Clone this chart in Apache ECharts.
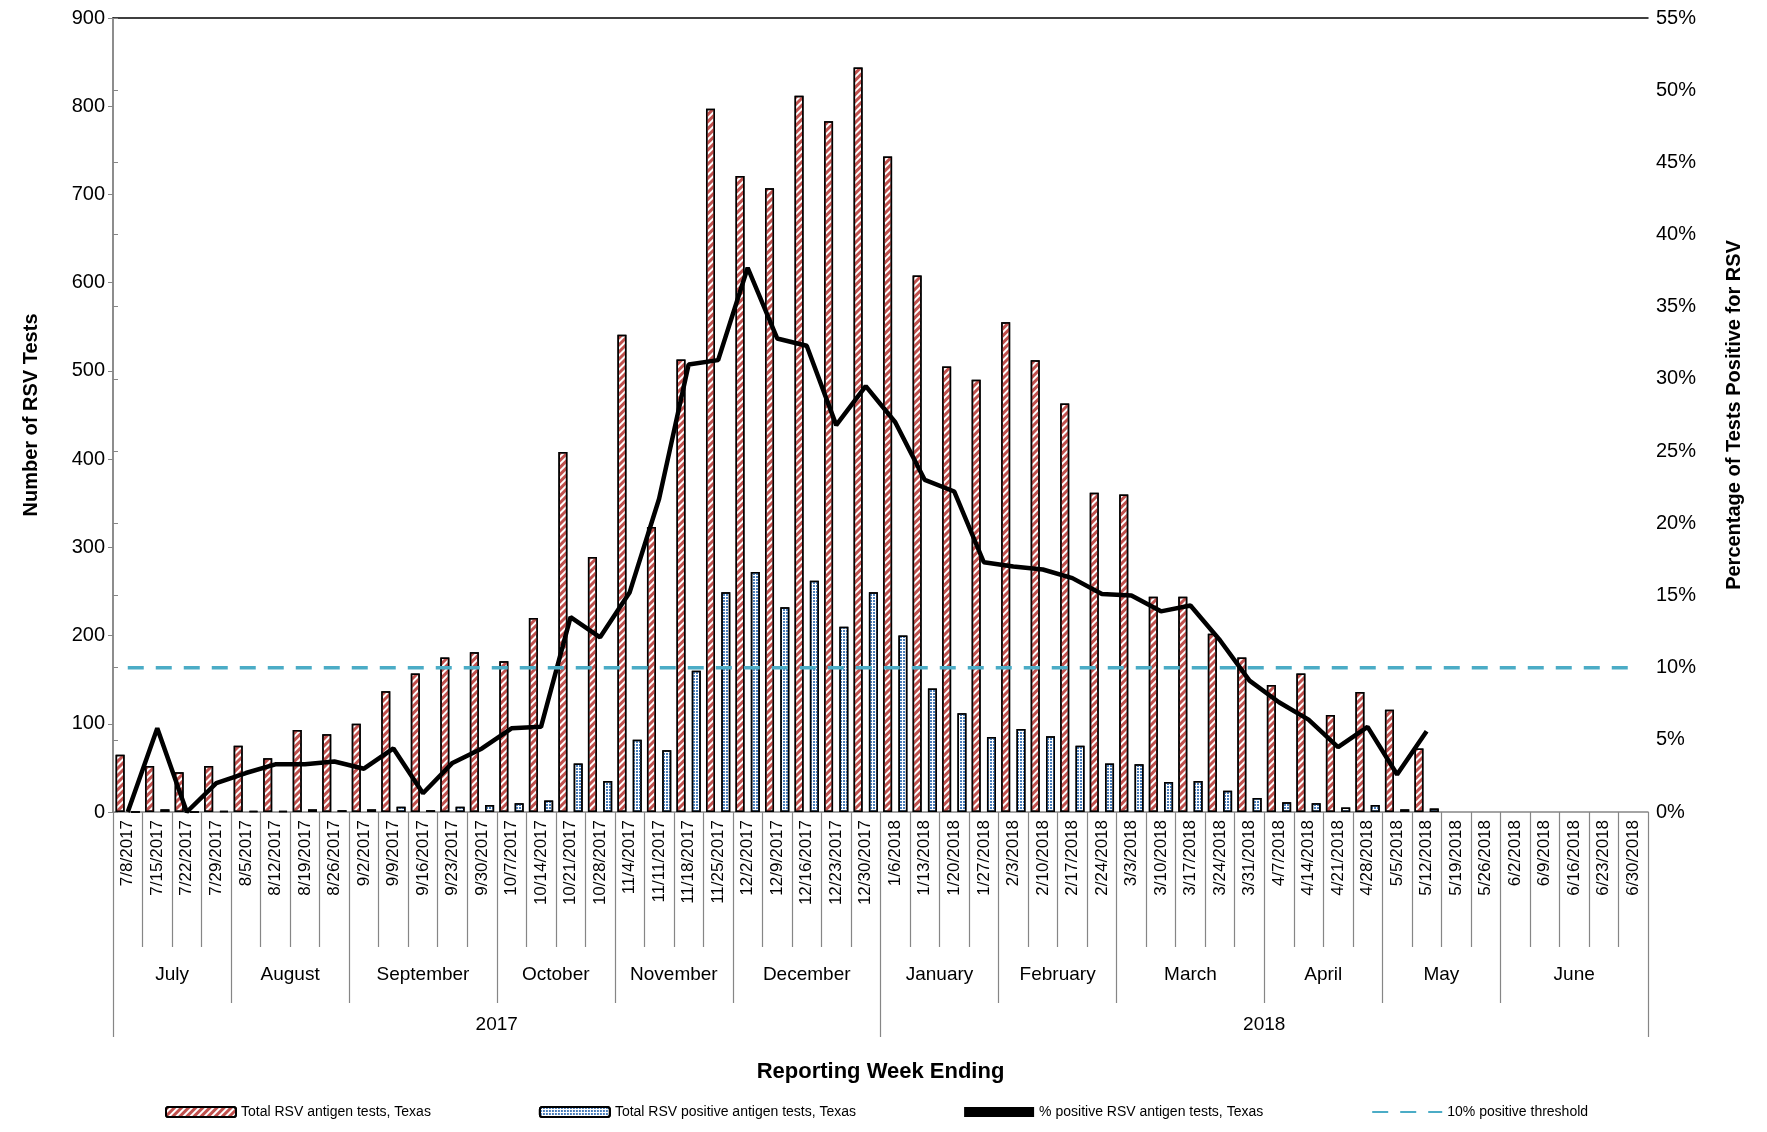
<!DOCTYPE html>
<html>
<head>
<meta charset="utf-8" />
<title>RSV Texas</title>
<style>html,body{margin:0;padding:0;background:#fff;}</style>
</head>
<body>
<div id="main" style="width:1767px;height:1132px;"></div>
<script src="https://cdn.jsdelivr.net/npm/echarts@6/dist/echarts.min.js"></script>
<script>
var weeks = ['7/8/2017','7/15/2017','7/22/2017','7/29/2017','8/5/2017','8/12/2017','8/19/2017','8/26/2017',
  '9/2/2017','9/9/2017','9/16/2017','9/23/2017','9/30/2017','10/7/2017','10/14/2017','10/21/2017','10/28/2017',
  '11/4/2017','11/11/2017','11/18/2017','11/25/2017','12/2/2017','12/9/2017','12/16/2017','12/23/2017','12/30/2017',
  '1/6/2018','1/13/2018','1/20/2018','1/27/2018','2/3/2018','2/10/2018','2/17/2018','2/24/2018',
  '3/3/2018','3/10/2018','3/17/2018','3/24/2018','3/31/2018','4/7/2018','4/14/2018','4/21/2018','4/28/2018',
  '5/5/2018','5/12/2018','5/19/2018','5/26/2018','6/2/2018','6/9/2018','6/16/2018','6/23/2018','6/30/2018'];
var totalTests = [65,52,45,52,75,61,93,88,100,137,157,175,181,171,220,408,289,541,323,513,797,721,707,812,783,844,
  743,608,505,490,555,512,463,362,360,244,244,202,175,144,157,110,136,116,72,null,null,null,null,null,null,null];
var positiveTests = [0,3,0,1,1,1,3,2,3,6,2,6,8,10,13,55,35,82,70,160,249,272,232,262,210,249,
  200,140,112,85,94,86,75,55,54,34,35,24,16,11,10,5,8,3,4,null,null,null,null,null,null,null];
var pctPositive = [0,5.8,0,2.0,2.7,3.3,3.3,3.5,3.0,4.4,1.3,3.4,4.4,5.8,5.9,13.5,12.1,15.2,21.7,31.0,31.3,37.7,32.8,32.3,26.8,29.5,
  27.0,23.0,22.2,17.3,17.0,16.8,16.2,15.1,15.0,13.9,14.3,11.9,9.1,7.6,6.4,4.5,5.9,2.6,5.6,null,null,null,null,null,null,null];
var threshold = weeks.map(function () { return 10; });
var months = ['July','August','September','October','November','December','January','February','March','April','May','June'];
var monthWeeks = [4,4,5,4,4,5,4,4,5,4,4,5];
var years = ['2017','2018'];
var yearWeeks = [26,26];

function spans(counts) {
  var edges = [0], centers = [], s = 0;
  counts.forEach(function (c) { centers.push(s + c / 2); s += c; edges.push(s); });
  return { edges: edges, centers: centers };
}
var mSp = spans(monthWeeks), ySp = spans(yearWeeks);
var weekEdges = weeks.map(function (w, i) { return i; }).concat([weeks.length]);
var gray = '#868686';
var font = "'Liberation Sans Narrow','Liberation Sans',sans-serif";
function edgeAxis(offset, tickVals, len, labelVals, labels, fs, margin) {
  return { type: 'value', min: 0, max: 52, position: 'bottom', offset: offset,
    splitLine: { show: false }, axisLine: { show: false },
    axisTick: { show: true, customValues: tickVals, length: len, lineStyle: { color: gray, width: 1.2 } },
    axisLabel: { show: !!labelVals, customValues: labelVals || [], fontSize: fs, color: '#000', margin: margin,
      formatter: function (v) { return labels ? labels[labelVals.indexOf(v)] : ''; } } };
}
var chart = echarts.init(document.getElementById('main'));
var yearAxis = edgeAxis(191, ySp.edges, 34, ySp.centers, years, 19, 12);
yearAxis.name = 'Reporting Week Ending';
yearAxis.nameLocation = 'middle';
yearAxis.nameGap = 58;
yearAxis.nameTextStyle = { fontSize: 22, fontWeight: 'bold', color: '#000' };
chart.setOption({
  textStyle: { fontFamily: font },
  animation: false,
  grid: { left: 113, right: 119, top: 18, bottom: 320 },
  legend: {
    bottom: 8, left: 160, itemGap: 108, itemWidth: 70, itemHeight: 10,
    textStyle: { fontSize: 14, color: '#000' },
    data: [
      { name: 'Total RSV antigen tests, Texas' },
      { name: 'Total RSV positive antigen tests, Texas' },
      { name: '% positive RSV antigen tests, Texas', icon: 'rect', itemStyle: { color: '#000' } },
      { name: '10% positive threshold', itemStyle: { opacity: 0 } }
    ]
  },
  xAxis: [
    { type: 'category', data: weeks, position: 'bottom',
      axisLine: { lineStyle: { color: gray, width: 1.5 } },
      axisTick: { show: false },
      axisLabel: { rotate: 90, interval: 0, fontSize: 17, color: '#000', margin: 8 } },
    edgeAxis(0, weekEdges, 135),
    edgeAxis(135, mSp.edges, 56, mSp.centers, months, 19, 18),
    yearAxis,
    { type: 'category', data: weeks, position: 'top',
      axisLine: { lineStyle: { color: '#000', width: 1.5 } }, axisTick: { show: false }, axisLabel: { show: false } }
  ],
  yAxis: [
    { type: 'value', min: 0, max: 900, interval: 100, splitLine: { show: false },
      axisLine: { show: true, lineStyle: { color: gray, width: 1.5 } },
      axisTick: { show: true, lineStyle: { color: gray } },
      axisLabel: { fontSize: 20, color: '#000' },
      name: 'Number of RSV Tests', nameLocation: 'middle', nameGap: 72, nameRotate: 90,
      nameTextStyle: { fontSize: 20, fontWeight: 'bold', color: '#000' } },
    { type: 'value', min: 0, max: 55, interval: 5, splitLine: { show: false },
      axisLine: { show: true, lineStyle: { color: gray, width: 1.5 } },
      axisTick: { show: true, lineStyle: { color: gray } },
      axisLabel: { fontSize: 20, color: '#000', formatter: '{value}%' },
      name: 'Percentage of Tests Positive for RSV', nameLocation: 'middle', nameGap: 76, nameRotate: 90,
      nameTextStyle: { fontSize: 20, fontWeight: 'bold', color: '#000' } }
  ],
  series: [
    { name: 'Total RSV antigen tests, Texas', type: 'bar', data: totalTests, barWidth: 9, barGap: '70%',
      itemStyle: { color: '#fff', borderColor: '#000', borderWidth: 1.5,
        decal: { symbol: 'rect', color: '#c0504d', dashArrayX: [1, 0], dashArrayY: [3, 2], rotation: -Math.PI / 4, symbolSize: 1 } } },
    { name: 'Total RSV positive antigen tests, Texas', type: 'bar', data: positiveTests, barWidth: 9,
      itemStyle: { color: '#fff', borderColor: '#000', borderWidth: 1.5,
        decal: { symbol: 'rect', color: '#4a7ebb', dashArrayX: [[2, 1]], dashArrayY: [2, 1], symbolSize: 1 } } },
    { name: '% positive RSV antigen tests, Texas', type: 'line', yAxisIndex: 1, data: pctPositive,
      showSymbol: false, symbol: 'none', lineStyle: { color: '#000', width: 4.5 }, itemStyle: { color: '#000' } },
    { name: '10% positive threshold', type: 'line', yAxisIndex: 1, data: threshold,
      showSymbol: false, symbol: 'none', lineStyle: { color: '#4bacc6', width: 3.5, type: [16, 12] }, itemStyle: { color: '#4bacc6' } }
  ]
});
</script>
</body>
</html>
